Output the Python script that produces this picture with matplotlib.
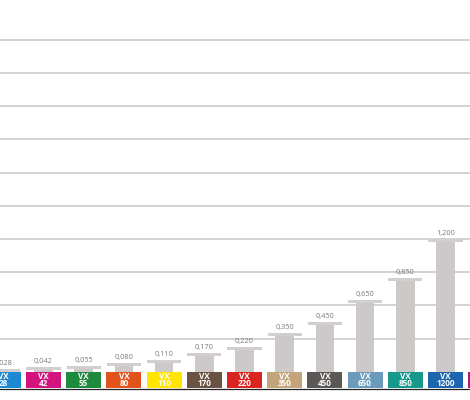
import matplotlib.pyplot as plt

models = ['28', '42', '55', '80', '110', '170', '220', '350', '450', '650', '850', '1200', '']
values = [0.028, 0.042, 0.055, 0.080, 0.110, 0.170, 0.220, 0.350, 0.450, 0.650, 0.850, 1.200]
value_labels = ['0,028', '0,042', '0,055', '0,080', '0,110', '0,170', '0,220',
                '0,350', '0,450', '0,650', '0,850', '1,200']
box_colors = ['#1c8ad2', '#d5137f', '#1d8a3d', '#e2521d', '#ffe500', '#6a5343', '#d9241f',
              '#c4a57b', '#5b5856', '#6b9bba', '#16998b', '#1d65ad', '#a31e80']
grid_levels = [0.3, 0.6, 0.9, 1.2, 1.5, 1.8, 2.1, 2.4, 2.7, 3.0]

fig = plt.figure(figsize=(4.7, 4.0), dpi=100)
ax = fig.add_axes([0, 0, 1, 1])

for g in grid_levels:
    ax.axhline(g, color='#cfcfcf', lw=1.3, zorder=0)

x_all = list(range(len(models)))
x = x_all[:len(values)]

# label boxes under the baseline
ax.bar(x_all, -0.145, width=0.87, color=box_colors, zorder=2)
for xi, m in zip(x_all, models):
    if m:
        ax.text(xi, -0.074, 'VX\n' + m, ha='center', va='center', color='white',
                fontsize=5.9, fontweight='bold', family='Open Sans', linespacing=0.8, zorder=3)
ax.axhline(-0.156, color='#222222', lw=0.9, zorder=3)

# bar body + wider cap
ax.bar(x, values, width=0.46, color='#cdc9c8', zorder=1)
cap_h = 0.027
ax.bar(x, cap_h, bottom=[v - cap_h for v in values], width=0.85, color='#d2cfce', zorder=1)
for xi, v, lab in zip(x, values, value_labels):
    ax.text(xi, v + 0.018, lab, ha='center', va='bottom', fontsize=5.3,
            color='#7a7a7a', family='Open Sans')

ax.set_xlim(-0.082, 11.61)
ax.set_ylim(-0.255, 3.361)
ax.axis('off')

fig.savefig('out.png', dpi=100)
